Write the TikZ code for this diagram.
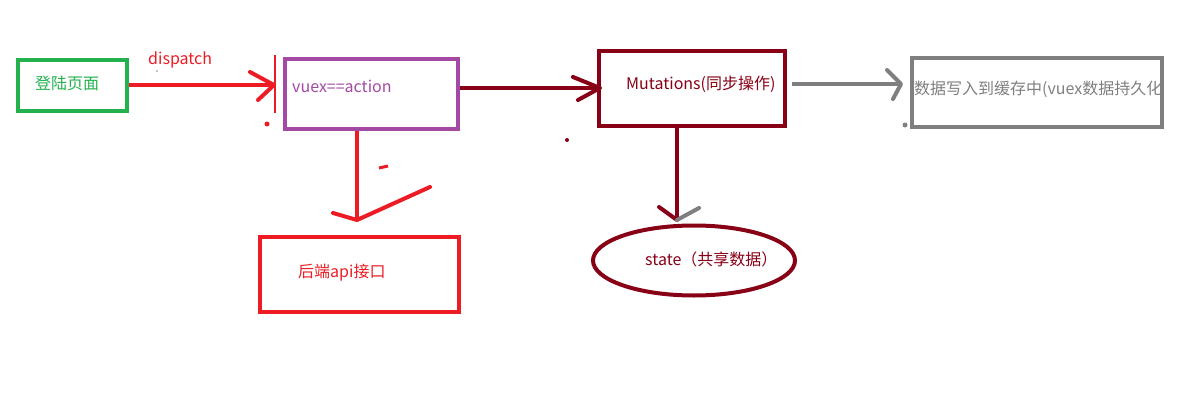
\documentclass[tikz,border=0pt]{standalone}
\usepackage{fontspec}
\usetikzlibrary{shapes.geometric}
\setmainfont{Noto Sans CJK SC}
\definecolor{cgreen}{HTML}{22B14C}
\definecolor{cpurple}{HTML}{A349A4}
\definecolor{cdred}{HTML}{880015}
\definecolor{cred}{HTML}{ED1C24}
\definecolor{cgray}{HTML}{7F7F7F}
\tikzset{
  box/.style={draw, line width=4pt, rectangle, inner sep=0pt},
  lbl/.style={inner sep=0pt, font=\fontsize{16}{19}\selectfont},
  conn/.style={line width=4pt},
  head/.style={line width=4pt, line cap=round, line join=round},
}
\begin{document}
\begin{tikzpicture}[x=1pt,y=-1pt]
\useasboundingbox (0,0) rectangle (1196,409);
% boxes
\node[box, cgreen, minimum width=109pt, minimum height=51pt] (login) at (72.5,85.5) {};
\node[box, cpurple, minimum width=173pt, minimum height=70pt] (action) at (371.5,94) {};
\node[box, cdred, minimum width=186pt, minimum height=75pt] (mut) at (692,88.5) {};
\node[box, cgray, minimum width=250pt, minimum height=69pt] (cache) at (1037,92.5) {};
\node[box, cred, minimum width=199pt, minimum height=75pt] (api) at (359.5,274.5) {};
\node[draw, cdred, line width=4pt, ellipse, minimum width=202pt, minimum height=70pt, inner sep=0pt] (state) at (694,260.5) {};
% labels
\node[lbl, cgreen, anchor=west] (tlogin) at (35,83) {登陆页面};
\node[lbl, cpurple, anchor=west] (taction) at (292,86) {vuex==action};
\node[lbl, cdred, anchor=west] (tmut) at (626,84) {Mutations(同步操作)};
\begin{scope}
\clip (912,58) rectangle (1162,127);
\node[lbl, cgray, anchor=west] (tcache) at (914,89) {数据写入到缓存中(vuex数据持久化)};
\end{scope}
\node[lbl, cred, anchor=west] (tapi) at (298,273) {后端api接口};
\node[lbl, cdred, anchor=west] (tstate) at (645,259) {state（共享数据）};
\node[lbl, cred, anchor=west] (tdisp) at (148,60) {dispatch};
% connectors
\coordinate (h1) at (274,85);
\coordinate (h2) at (600,88);
\coordinate (h3) at (901,84);
\coordinate (h4) at (677,220);
\coordinate (h5) at (357,220);
\draw[conn, cred] (login.east |- h1) -- (h1);
\draw[head, cred] (250,72) -- (h1) -- (258,100);
\draw[line width=1.3pt, cred] (275,55) -- (275,113);
\draw[conn, cdred] (action.east |- h2) -- (h2);
\draw[head, cdred] (573,77) -- (h2) -- (578,100);
\draw[conn, cgray] ([xshift=5pt]mut.east |- h3) -- (h3);
\draw[head, cgray] (887,70) -- (h3) -- (893,99);
\draw[conn, cdred] (mut.south -| h4) -- (h4);
\draw[head, cdred] (659,207) -- (h4);
\draw[head, cgray] (h4) -- (699,208);
\draw[conn, cred] (action.south -| h5) -- (h5);
\draw[head, cred] (333,213) -- (h5) -- (430,187);
\draw[line width=3pt, cred] (379,168) -- (388,166);
% stray dots
\fill[cred] (267,124) circle (2.5pt);
\fill[cdred] (567,140) circle (2pt);
\fill[cgray] (905,125) circle (2.5pt);
\fill[black] (157,71) circle (0.7pt);
\end{tikzpicture}
\end{document}
